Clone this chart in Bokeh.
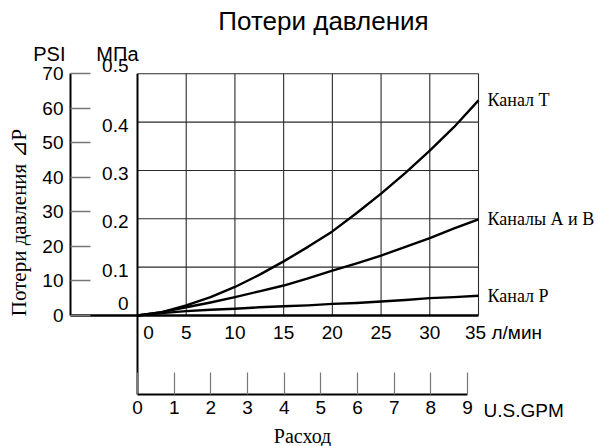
import math
from bokeh.plotting import figure
from bokeh.models import Range1d, LinearAxis, FixedTicker
from bokeh.core.properties import value
from bokeh.embed import file_html
from bokeh.resources import INLINE

# ---------------- data ----------------
flow_lpm = [0, 2.5, 5, 7.5, 10, 12.5, 15, 17.5, 20, 22.5, 25, 27.5, 30, 32.5, 35]
dp_T = [0, 0.007, 0.021, 0.038, 0.059, 0.084, 0.112, 0.142, 0.174, 0.212, 0.252, 0.295, 0.341, 0.390, 0.445]
dp_AB = [0, 0.007, 0.017, 0.027, 0.038, 0.050, 0.062, 0.077, 0.093, 0.108, 0.124, 0.142, 0.160, 0.180, 0.199]
dp_P = [0, 0.005, 0.009, 0.012, 0.014, 0.017, 0.019, 0.021, 0.024, 0.026, 0.029, 0.032, 0.036, 0.038, 0.041]
series_names = ["Канал Т", "Каналы А и В", "Канал Р"]

mpa_ticks = [0, 0.1, 0.2, 0.3, 0.4, 0.5]
mpa_labels = ["0", "0.1", "0.2", "0.3", "0.4", "0.5"]
psi_ticks = [0, 10, 20, 30, 40, 50, 60, 70]
lpm_ticks = [0, 5, 10, 15, 20, 25, 30, 35]
lpm_labels = ["0", "5", "10", "15", "20", "25", "30", "35"]
gpm_ticks = [0, 1, 2, 3, 4, 5, 6, 7, 8, 9]

title_text = "Потери давления"
y_title = "Потери давления ⊿P"
x_title = "Расход"

# ---------------- layout (pixels -> data) ----------------
W, H = 598, 446
PX_L, PX_T = 0, 0                    # page position of canvas
PX_X0, PX_X35 = 137, 478             # page x of 0 and 35 l/min
PX_Y0, PX_YTOP = 315, 73.3           # page y of 0 and 0.5 MPa
KX = 35 / (PX_X35 - PX_X0)
KY = 0.5 / (PX_Y0 - PX_YTOP)
KPSI = 70 / (PX_Y0 - PX_YTOP)
PX_GPM = 36.67                       # pixels per GPM

def X(px):
    return (px - PX_X0) * KX

def Y(py):
    return (PX_Y0 - py) * KY

x_range = Range1d(X(PX_L), X(PX_L + W))
y_range = Range1d(Y(PX_T + H), Y(PX_T))
psi_range = Range1d((PX_Y0 - (PX_T + H)) * KPSI, (PX_Y0 - PX_T) * KPSI)
gpm_range = Range1d((PX_L - PX_X0) / PX_GPM, (PX_L + W - PX_X0) / PX_GPM)

PSI_AXIS_X = X(70)
GPM_AXIS_Y = Y(394)

p = figure(width=W, height=H, x_range=x_range, y_range=y_range,
           x_axis_location=None, y_axis_location=None,
           toolbar_location=None, output_backend="svg",
           min_border=0, outline_line_color=None)
p.extra_y_ranges = {"psi": psi_range}
p.extra_x_ranges = {"gpm": gpm_range}
p.grid.visible = False

SANS = value("Liberation Sans")
SERIF = value("Liberation Serif")
GRID = "#2a2a2a"
TICK = "#777777"
NUM = "19px"

# grid
top = mpa_ticks[-1]
right = lpm_ticks[-1]
p.segment(x0=[0] * (len(mpa_ticks) - 1), x1=[right] * (len(mpa_ticks) - 1),
          y0=mpa_ticks[1:], y1=mpa_ticks[1:], line_color=GRID, line_width=1.1)
p.segment(x0=lpm_ticks[1:], x1=lpm_ticks[1:], y0=[0] * (len(lpm_ticks) - 1),
          y1=[top] * (len(lpm_ticks) - 1), line_color=GRID, line_width=1.1)

# MPa vertical axis line (runs down to the GPM axis)
p.segment(x0=[0], x1=[0], y0=[GPM_AXIS_Y], y1=[top], line_color="black", line_width=2)
# baseline (0 pressure) from PSI axis to 35 l/min
p.segment(x0=[PSI_AXIS_X], x1=[right], y0=[0], y1=[0], line_color="black", line_width=2.5)

# curves
for ys in (dp_T, dp_AB, dp_P):
    p.line(flow_lpm, ys, line_color="black", line_width=2.4, line_join="round")

# PSI axis
ax_psi = LinearAxis(y_range_name="psi", fixed_location=PSI_AXIS_X,
                    ticker=FixedTicker(ticks=psi_ticks), bounds=(0, 70),
                    major_tick_in=20, major_tick_out=0,
                    minor_tick_line_color=None,
                    axis_line_width=2, axis_line_color="black",
                    major_tick_line_color=TICK, major_tick_line_width=1.5,
                    major_label_text_font="Liberation Sans",
                    major_label_text_font_size=NUM,
                    major_label_text_color="black",
                    major_label_standoff=7)
p.add_layout(ax_psi, "left")

# GPM axis
ax_gpm = LinearAxis(x_range_name="gpm", fixed_location=GPM_AXIS_Y,
                    ticker=FixedTicker(ticks=gpm_ticks), bounds=(0, 9),
                    major_tick_in=22, major_tick_out=0,
                    minor_tick_line_color=None,
                    axis_line_width=2, axis_line_color="black",
                    major_tick_line_color=TICK, major_tick_line_width=1.2,
                    major_label_text_font="Liberation Sans",
                    major_label_text_font_size=NUM,
                    major_label_text_color="black",
                    major_label_standoff=6)
p.add_layout(ax_gpm, "below")

# MPa tick labels
mpa_dy = [-12, 3, 3, 3, 3, -8]
p.text(x=[0] * len(mpa_ticks), y=mpa_ticks, text=mpa_labels,
       x_offset=-9, y_offset=mpa_dy, text_align="right", text_baseline="middle",
       text_font=SANS, text_font_size=NUM, text_color="black")

# l/min tick labels
lpm_dx = [11, 0, 0, 0, 0, 0, 0, -3]
p.text(x=lpm_ticks, y=[0] * len(lpm_ticks), text=lpm_labels,
       x_offset=lpm_dx, y_offset=17, text_align="center", text_baseline="middle",
       text_font=SANS, text_font_size=NUM, text_color="black")
p.text(x=[right], y=[0], text=["л/мин"], x_offset=13, y_offset=17,
       text_align="left", text_baseline="middle",
       text_font=SANS, text_font_size=NUM, text_color="black")

# GPM unit
p.text(x=[gpm_ticks[-1]], y=[GPM_AXIS_Y], text=["U.S.GPM"], x_range_name="gpm",
       x_offset=16, y_offset=16, text_align="left", text_baseline="middle",
       text_font=SANS, text_font_size=NUM, text_color="black")

# axis headers
p.text(x=[PSI_AXIS_X], y=[top], text=["PSI"], x_offset=-5, y_offset=-20,
       text_align="right", text_baseline="middle",
       text_font=SANS, text_font_size="20px", text_color="black")
p.text(x=[0], y=[top], text=["МПа"], x_offset=1, y_offset=-20,
       text_align="right", text_baseline="middle",
       text_font=SANS, text_font_size="20px", text_color="black")

# series labels at the line ends
ends = [dp_T[-1], dp_AB[-1], dp_P[-1]]
p.text(x=[right] * 3, y=ends, text=series_names, x_offset=9,
       text_align="left", text_baseline="middle",
       text_font=SERIF, text_font_size="18px", text_color="black")

# title
p.text(x=[X(323)], y=[Y(20)], text=[title_text], text_align="center",
       text_baseline="middle", text_font=SANS, text_font_size="26px",
       text_color="black")

# vertical axis title
p.text(x=[X(18)], y=[Y(222)], text=[y_title], angle=math.pi / 2,
       text_align="center", text_baseline="middle", text_font=SERIF,
       text_font_size="21px", text_color="black")

# horizontal axis title
p.text(x=[X(302)], y=[Y(435)], text=[x_title], text_align="center",
       text_baseline="middle", text_font=SERIF, text_font_size="20px",
       text_color="black")

open("out.html", "w").write(file_html(p, INLINE))
